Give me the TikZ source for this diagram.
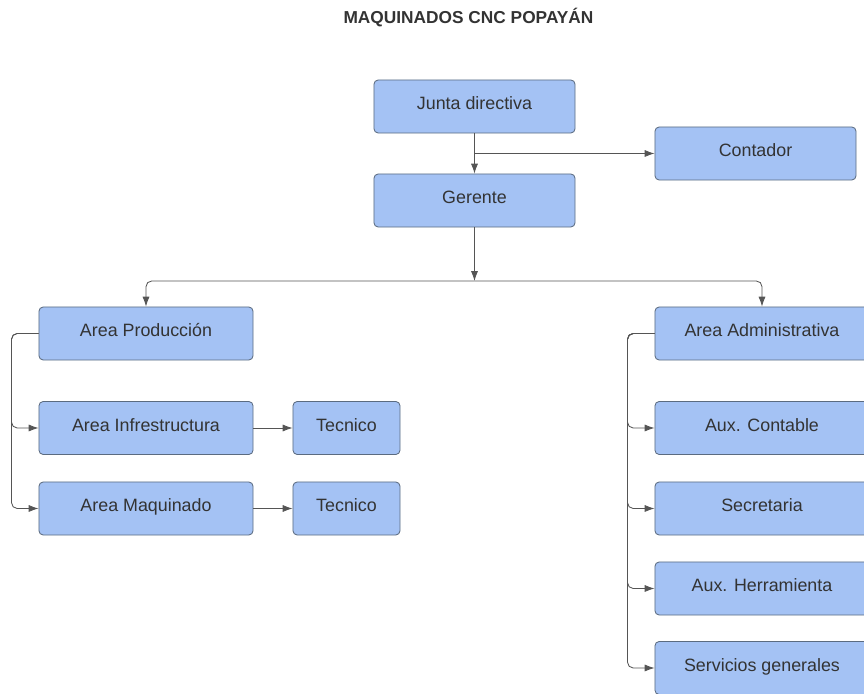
\documentclass[tikz,border=0pt]{standalone}
\usepackage{fontspec}
\setmainfont{Liberation Sans}
\usetikzlibrary{positioning, arrows.meta}
\definecolor{boxblue}{HTML}{A4C2F4}
\definecolor{boxline}{HTML}{5B6B80}
\definecolor{linegray}{HTML}{555555}
\definecolor{textgray}{HTML}{333333}

\begin{document}
\begin{tikzpicture}[x=0.025cm, y=-0.025cm]

\tikzstyle{box_style} = [draw=boxline, fill=boxblue, rounded corners=3pt, line width=0.6pt, text=textgray, font=\fontsize{12.7}{15}\selectfont, text height=1.5ex, text depth=0.6ex, minimum width=5.025cm, minimum height=1.325cm, inner sep=0pt]
\tikzstyle{area_style} = [box_style, minimum width=5.35cm]
\tikzstyle{tec_style} = [box_style, minimum width=2.675cm]
\tikzstyle{edge_style} = [draw=linegray, line width=0.6pt, -{Latex[length=7pt, width=5pt]}]

\useasboundingbox (0,0) rectangle (864,694);

\node[text=textgray, font=\bfseries\fontsize{12.3}{15}\selectfont] (title) at (468.5,17.5) {MAQUINADOS CNC POPAYÁN};

\node[box_style] (junta) at (474.5,106.5) {Junta directiva};
\node[box_style] (contador) at (755.5,153.5) {Contador};
\node[box_style] (gerente) at (474.5,200.5) {Gerente};

\node[area_style] (prod) at (146,333.5) {Area Producción};
\node[area_style] (infra) at (146,428) {Area Infrestructura};
\node[area_style] (maq) at (146,508.5) {Area Maquinado};
\node[tec_style] (tec1) at (346.5,428) {Tecnico};
\node[tec_style] (tec2) at (346.5,508.5) {Tecnico};

\node[area_style] (admin) at (762,333.5) {Area Administrativa};
\node[area_style] (auxc) at (762,428) {Aux. Contable};
\node[area_style] (secre) at (762,508.5) {Secretaria};
\node[area_style] (auxh) at (762,588.5) {Aux. Herramienta};
\node[area_style] (serv) at (762,668) {Servicios generales};

\coordinate (jc) at (474.5,153.5);
\coordinate (split) at (474.5,281);

\draw[edge_style]  (junta) -- (gerente);
\draw[edge_style]  (jc) -- (contador);
\draw[edge_style]  (gerente) -- (split);
\draw[edge_style, rounded corners=4pt]  (split) -| (prod);
\draw[edge_style, rounded corners=4pt]  (split) -| (admin);

\draw[edge_style, rounded corners=4pt]  (prod.west) -- ++(-27,0) |- (infra.west);
\draw[edge_style, rounded corners=4pt]  (prod.west) -- ++(-27,0) |- (maq.west);
\draw[edge_style]  (infra) -- (tec1);
\draw[edge_style]  (maq) -- (tec2);

\draw[edge_style, rounded corners=4pt]  (admin.west) -- ++(-27,0) |- (auxc.west);
\draw[edge_style, rounded corners=4pt]  (admin.west) -- ++(-27,0) |- (secre.west);
\draw[edge_style, rounded corners=4pt]  (admin.west) -- ++(-27,0) |- (auxh.west);
\draw[edge_style, rounded corners=4pt]  (admin.west) -- ++(-27,0) |- (serv.west);

\end{tikzpicture}
\end{document}
